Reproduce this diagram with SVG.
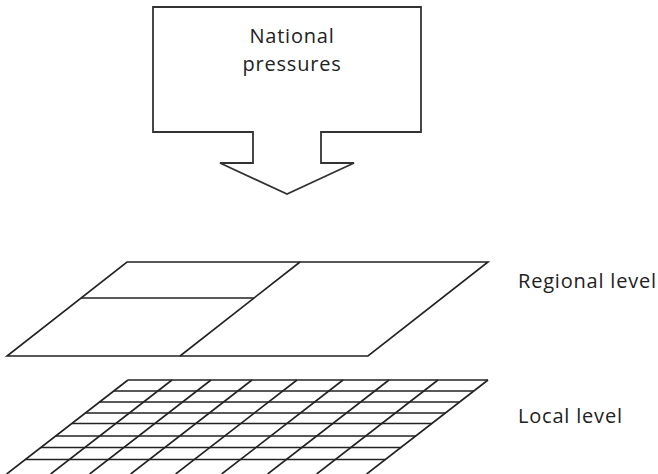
<svg xmlns="http://www.w3.org/2000/svg" width="658" height="474" viewBox="0 0 658 474">
<style>
.ln{fill:none;stroke:#222;stroke-width:1.6;stroke-linejoin:miter}
.box{fill:#fff;stroke:#333;stroke-width:1.8}
.t{font-family:"Open Sans","Liberation Sans",sans-serif;font-size:20px;fill:#222;letter-spacing:0.8px}
</style>
<rect width="658" height="474" fill="#fff"/>
<g id="national">
<polygon class="box" points="153,7 421,7 421,132 321,132 321,163 354,163 287,194 220,163 253,163 253,132 153,132"/>
<text class="t" x="292" y="43" text-anchor="middle">National</text>
<text class="t" x="292" y="71" text-anchor="middle">pressures</text>
</g>
<g id="regional">
<polygon class="ln" points="127,262 488,262 368,356 7,356"/>
<line class="ln" x1="300" y1="262" x2="180" y2="356"/>
<line class="ln" x1="81" y1="298" x2="254" y2="298"/>
<text class="t" x="518" y="288">Regional level</text>
</g>
<g id="local">
<g class="ln">
<line x1="128" y1="380" x2="488" y2="380"/>
<line x1="113.8" y1="391" x2="473.8" y2="391"/>
<line x1="99.6" y1="402" x2="459.6" y2="402"/>
<line x1="85.4" y1="413" x2="445.4" y2="413"/>
<line x1="71.9" y1="423.5" x2="431.9" y2="423.5"/>
<line x1="55.8" y1="436" x2="415.8" y2="436"/>
<line x1="40.9" y1="447.5" x2="400.9" y2="447.5"/>
<line x1="25.4" y1="459.5" x2="385.4" y2="459.5"/>
<line x1="128" y1="380" x2="6.7" y2="474"/>
<line x1="172" y1="380" x2="50.7" y2="474"/>
<line x1="211" y1="380" x2="89.7" y2="474"/>
<line x1="252" y1="380" x2="130.7" y2="474"/>
<line x1="297" y1="380" x2="175.7" y2="474"/>
<line x1="343" y1="380" x2="221.7" y2="474"/>
<line x1="389" y1="380" x2="267.7" y2="474"/>
<line x1="438" y1="380" x2="316.7" y2="474"/>
<line x1="488" y1="380" x2="366.7" y2="474"/>
</g>
<text class="t" x="518" y="423">Local level</text>
</g>
<g id="connectors"></g>
</svg>
